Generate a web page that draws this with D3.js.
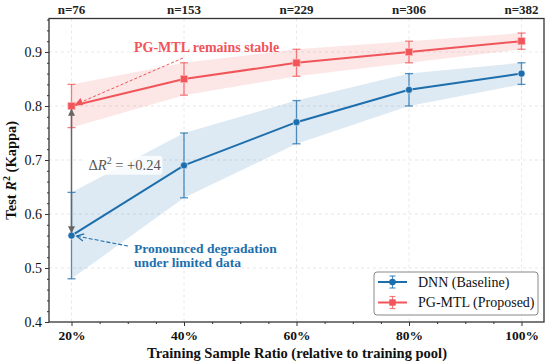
<!DOCTYPE html>
<html><head><meta charset="utf-8">
<script src="https://cdn.jsdelivr.net/npm/d3@7"></script>
<style>
html,body{margin:0;padding:0;background:#fff;}
svg{display:block;font-family:"Liberation Serif","Times New Roman",serif;}
</style></head>
<body>
<svg id="chart" width="550" height="363"></svg>
<script>
const ratios = [20, 40, 60, 80, 100];
const tickLabels = ["20%", "40%", "60%", "80%", "100%"];
const nLabels = ["n=76", "n=153", "n=229", "n=306", "n=382"];
const dnnMean = [0.56, 0.69, 0.77, 0.83, 0.86];
const dnnStd  = [0.08, 0.06, 0.04, 0.03, 0.02];
const pgMean  = [0.80, 0.85, 0.88, 0.90, 0.92];
const pgStd   = [0.04, 0.03, 0.025, 0.02, 0.015];
const yTicks = [0.4, 0.5, 0.6, 0.7, 0.8, 0.9];

const W = 550, H = 363;
const m = {l: 49, r: 6, t: 18.5, b: 41};
const svg = d3.select("#chart");
const x = d3.scaleLinear().domain([16, 104]).range([m.l, W - m.r]);
const y = d3.scaleLinear().domain([0.4, 0.962]).range([H - m.b, m.t]);

const blue = "#1c6ead", red = "#f0555a", gray = "#666";

// grid
const g = svg.append("g");
g.selectAll(".gx").data(ratios).join("line")
  .attr("x1", d => x(d)).attr("x2", d => x(d)).attr("y1", y.range()[1]).attr("y2", y.range()[0])
  .attr("stroke", "#e2e2e2").attr("stroke-dasharray", "3,3").attr("stroke-width", 0.8);
g.selectAll(".gy").data(yTicks.slice(1)).join("line")
  .attr("y1", d => y(d)).attr("y2", d => y(d)).attr("x1", x.range()[0]).attr("x2", x.range()[1])
  .attr("stroke", "#e2e2e2").attr("stroke-dasharray", "3,3").attr("stroke-width", 0.8);

// bands
function band(mean, std, col) {
  const area = d3.area().x((d, i) => x(ratios[i])).y0((d, i) => y(mean[i] - std[i])).y1((d, i) => y(mean[i] + std[i]));
  svg.append("path").datum(mean).attr("d", area).attr("fill", col).attr("fill-opacity", 0.15);
}
band(dnnMean, dnnStd, blue);
band(pgMean, pgStd, red);

// axes
const xAxis = d3.axisBottom(x).tickValues(ratios).tickFormat((d, i) => tickLabels[i]).tickSize(4).tickPadding(4);
const xMinor = d3.axisBottom(x).tickValues(d3.range(20, 101, 5).filter(v => v % 20 !== 0)).tickFormat("").tickSize(2);
const yAxis = d3.axisLeft(y).tickValues(yTicks).tickFormat(d3.format(".1f")).tickSize(4).tickPadding(3);
const yMinor = d3.axisLeft(y).tickValues(d3.range(0.42, 0.961, 0.02).filter(v => Math.abs(v * 10 - Math.round(v * 10)) > 0.01)).tickFormat("").tickSize(2);

const gx = svg.append("g").attr("transform", `translate(0,${H - m.b})`).call(xAxis);
gx.selectAll("text").attr("font-size", 13.5).attr("font-weight", "bold").attr("fill", "#111").attr("font-family", "Liberation Serif");
svg.append("g").attr("transform", `translate(0,${H - m.b})`).call(xMinor);
const gy = svg.append("g").attr("transform", `translate(${m.l},0)`).call(yAxis);
gy.selectAll("text").attr("font-size", 14).attr("fill", "#111").attr("font-family", "Liberation Serif");
svg.append("g").attr("transform", `translate(${m.l},0)`).call(yMinor);
svg.selectAll(".domain").remove();
svg.selectAll(".tick line").attr("stroke", "#333");

// frame
svg.append("rect").attr("x", m.l).attr("y", m.t).attr("width", W - m.l - m.r).attr("height", H - m.t - m.b)
  .attr("fill", "none").attr("stroke", "#333").attr("stroke-width", 1.3);

// series
function series(mean, std, col, shape) {
  const line = d3.line().x((d, i) => x(ratios[i])).y(d => y(d));
  svg.append("path").datum(mean).attr("d", line).attr("fill", "none").attr("stroke", col).attr("stroke-width", 2);
  const eg = svg.append("g").attr("stroke", col).attr("stroke-width", 1.3).attr("stroke-opacity", 0.75);
  mean.forEach((v, i) => {
    const cx = x(ratios[i]);
    eg.append("line").attr("x1", cx).attr("x2", cx).attr("y1", y(v - std[i])).attr("y2", y(v + std[i]));
    [v - std[i], v + std[i]].forEach(e => eg.append("line").attr("x1", cx - 4).attr("x2", cx + 4).attr("y1", y(e)).attr("y2", y(e)));
  });
  mean.forEach((v, i) => {
    const cx = x(ratios[i]), cy = y(v);
    if (shape === "circle") svg.append("circle").attr("cx", cx).attr("cy", cy).attr("r", 3.6).attr("fill", col).attr("stroke", "#fff").attr("stroke-width", 0.6);
    else svg.append("rect").attr("x", cx - 3.6).attr("y", cy - 3.6).attr("width", 7.2).attr("height", 7.2).attr("fill", col).attr("stroke", "#fbb").attr("stroke-width", 0.6);
  });
}
series(dnnMean, dnnStd, blue, "circle");
series(pgMean, pgStd, red, "square");

// defs for arrows
const defs = svg.append("defs");
function marker(id, col, orient, size) {
  defs.append("marker").attr("id", id).attr("viewBox", "0 0 10 10").attr("refX", 9).attr("refY", 5)
    .attr("markerWidth", size).attr("markerHeight", size).attr("orient", orient).attr("markerUnits", "userSpaceOnUse")
    .append("path").attr("d", "M0,0 L10,5 L0,10 Z").attr("fill", col);
}
marker("ag", gray, "auto-start-reverse", 7);
marker("ar", red, "auto", 8);
defs.append("marker").attr("id", "ab").attr("viewBox", "0 0 10 10").attr("refX", 9).attr("refY", 5)
  .attr("markerWidth", 9).attr("markerHeight", 9).attr("orient", "auto").attr("markerUnits", "userSpaceOnUse")
  .append("path").attr("d", "M1,1 L9,5 L1,9").attr("fill", "none").attr("stroke", blue).attr("stroke-width", 1.3);

// delta double arrow
const x0 = x(ratios[0]);
svg.append("line").attr("x1", x0).attr("x2", x0).attr("y1", y(dnnMean[0]) - 3).attr("y2", y(pgMean[0]) + 3.5)
  .attr("stroke", gray).attr("stroke-width", 1.5)
  .attr("marker-start", "url(#ag)").attr("marker-end", "url(#ag)");

// delta label
const dl = svg.append("g").attr("transform", `translate(${x0 + 17},${y(0.682)})`);
dl.append("rect").attr("x", -3).attr("y", -14).attr("width", 77).attr("height", 19).attr("rx", 3).attr("fill", "#fff").attr("fill-opacity", 0.8);
const dt = dl.append("text").attr("font-size", 14.5).attr("fill", "#555");
dt.append("tspan").text("Δ");
dt.append("tspan").attr("font-style", "italic").text("R");
dt.append("tspan").attr("dy", -6).attr("font-size", 10).text("2");
dt.append("tspan").attr("dy", 6).text(" = +0.24");

// red annotation
svg.append("line").attr("x1", 183).attr("y1", 58).attr("x2", x0 + 4).attr("y2", y(pgMean[0]) - 1.5)
  .attr("stroke", red).attr("stroke-width", 1).attr("stroke-dasharray", "3,2").attr("marker-end", "url(#ar)");
svg.append("text").attr("x", 134).attr("y", 52).attr("font-size", 14).attr("font-weight", "bold").attr("fill", red)
  .text("PG-MTL remains stable");

// blue annotation
svg.append("line").attr("x1", 128).attr("y1", 246).attr("x2", x0 + 5).attr("y2", y(dnnMean[0]) + 0.5)
  .attr("stroke", blue).attr("stroke-width", 1.1).attr("stroke-dasharray", "4,2").attr("marker-end", "url(#ab)");
const bt = svg.append("text").attr("font-size", 13.5).attr("font-weight", "bold").attr("fill", blue);
bt.append("tspan").attr("x", 134).attr("y", 253).text("Pronounced degradation");
bt.append("tspan").attr("x", 134).attr("y", 267).text("under limited data");

// top n labels
svg.selectAll(".nl").data(nLabels).join("text")
  .attr("x", (d, i) => x(ratios[i])).attr("y", 14).attr("text-anchor", "middle")
  .attr("font-size", 13).attr("font-weight", "bold").attr("fill", "#222").text(d => d);

// axis titles
svg.append("text").attr("x", 297).attr("y", 358).attr("text-anchor", "middle").attr("font-size", 14.5).attr("font-weight", "bold").attr("fill", "#111")
  .text("Training Sample Ratio (relative to training pool)");
const yt = svg.append("text").attr("transform", `translate(16,${(m.t + H - m.b) / 2}) rotate(-90)`).attr("text-anchor", "middle")
  .attr("font-size", 14.5).attr("font-weight", "bold").attr("fill", "#111");
yt.append("tspan").text("Test ");
yt.append("tspan").attr("font-style", "italic").text("R");
yt.append("tspan").attr("dy", -6).attr("font-size", 10).text("2");
yt.append("tspan").attr("dy", 6).text(" (Kappa)");

// legend
const lg = svg.append("g").attr("transform", "translate(374,272)");
lg.append("rect").attr("width", 164).attr("height", 43).attr("rx", 3).attr("fill", "#fff").attr("fill-opacity", 0.9).attr("stroke", "#888").attr("stroke-width", 1);
[["DNN (Baseline)", blue, "circle", 10], ["PG-MTL (Proposed)", red, "square", 30.5]].forEach(([lab, col, shp, yy]) => {
  const e = lg.append("g").attr("transform", `translate(0,${yy})`);
  e.append("line").attr("x1", 4).attr("x2", 33).attr("stroke", col).attr("stroke-width", 2);
  const eb = e.append("g").attr("stroke", col).attr("stroke-width", 1.2).attr("stroke-opacity", 0.75);
  eb.append("line").attr("x1", 18.5).attr("x2", 18.5).attr("y1", -6).attr("y2", 6);
  [-6, 6].forEach(c => eb.append("line").attr("x1", 15.5).attr("x2", 21.5).attr("y1", c).attr("y2", c));
  if (shp === "circle") e.append("circle").attr("cx", 18.5).attr("r", 3.3).attr("fill", col);
  else e.append("rect").attr("x", 15.3).attr("y", -3.2).attr("width", 6.4).attr("height", 6.4).attr("fill", col);
  e.append("text").attr("x", 44).attr("y", 4.5).attr("font-size", 14).attr("fill", "#111").text(lab);
});
</script>
</body></html>
